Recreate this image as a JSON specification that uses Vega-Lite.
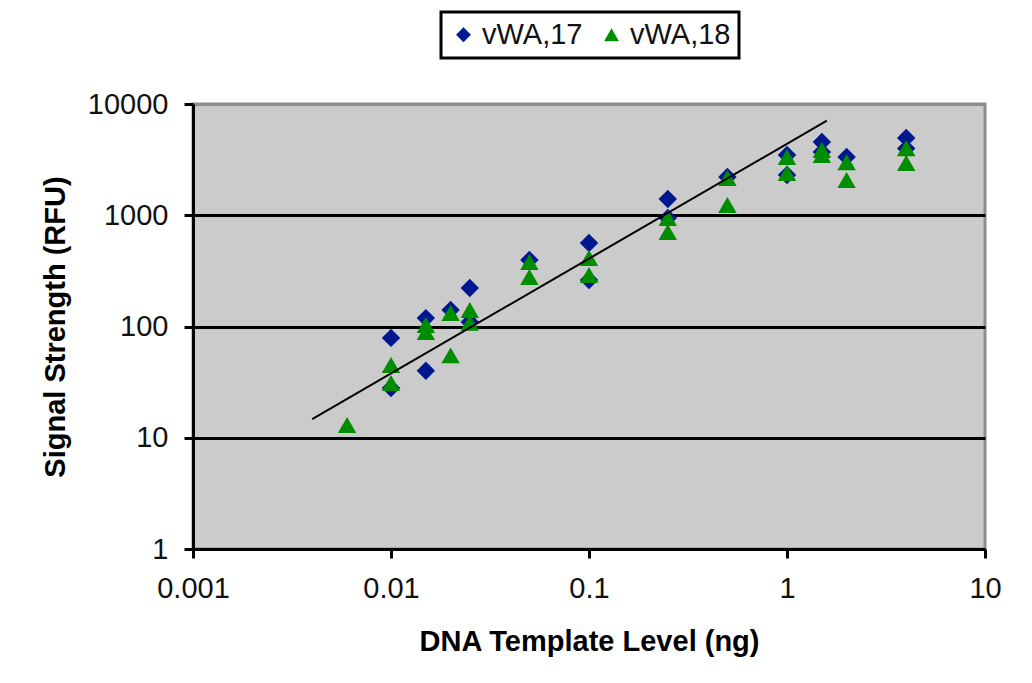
{
  "$schema": "https://vega.github.io/schema/vega-lite/v6.json",
  "autosize": {"type": "none"},
  "width": 792,
  "height": 445,
  "padding": {"left": 193, "top": 104, "right": 47, "bottom": 134},
  "background": "white",
  "datasets": {
    "signal": [
      {"dna": 0.01, "rfu": 79, "allele": "vWA,17"},
      {"dna": 0.01, "rfu": 28, "allele": "vWA,17"},
      {"dna": 0.015, "rfu": 119, "allele": "vWA,17"},
      {"dna": 0.015, "rfu": 40, "allele": "vWA,17"},
      {"dna": 0.02, "rfu": 141, "allele": "vWA,17"},
      {"dna": 0.025, "rfu": 222, "allele": "vWA,17"},
      {"dna": 0.025, "rfu": 110, "allele": "vWA,17"},
      {"dna": 0.05, "rfu": 396, "allele": "vWA,17"},
      {"dna": 0.1, "rfu": 563, "allele": "vWA,17"},
      {"dna": 0.1, "rfu": 262, "allele": "vWA,17"},
      {"dna": 0.25, "rfu": 1400, "allele": "vWA,17"},
      {"dna": 0.25, "rfu": 945, "allele": "vWA,17"},
      {"dna": 0.5, "rfu": 2207, "allele": "vWA,17"},
      {"dna": 1, "rfu": 3480, "allele": "vWA,17"},
      {"dna": 1, "rfu": 2300, "allele": "vWA,17"},
      {"dna": 1.5, "rfu": 4550, "allele": "vWA,17"},
      {"dna": 1.5, "rfu": 3700, "allele": "vWA,17"},
      {"dna": 2, "rfu": 3340, "allele": "vWA,17"},
      {"dna": 4, "rfu": 4950, "allele": "vWA,17"},
      {"dna": 4, "rfu": 3990, "allele": "vWA,17"},
      {"dna": 0.006, "rfu": 13, "allele": "vWA,18"},
      {"dna": 0.01, "rfu": 45, "allele": "vWA,18"},
      {"dna": 0.01, "rfu": 31, "allele": "vWA,18"},
      {"dna": 0.015, "rfu": 103, "allele": "vWA,18"},
      {"dna": 0.015, "rfu": 89, "allele": "vWA,18"},
      {"dna": 0.02, "rfu": 132, "allele": "vWA,18"},
      {"dna": 0.02, "rfu": 55, "allele": "vWA,18"},
      {"dna": 0.025, "rfu": 141, "allele": "vWA,18"},
      {"dna": 0.025, "rfu": 108, "allele": "vWA,18"},
      {"dna": 0.05, "rfu": 380, "allele": "vWA,18"},
      {"dna": 0.05, "rfu": 279, "allele": "vWA,18"},
      {"dna": 0.1, "rfu": 413, "allele": "vWA,18"},
      {"dna": 0.1, "rfu": 290, "allele": "vWA,18"},
      {"dna": 0.25, "rfu": 945, "allele": "vWA,18"},
      {"dna": 0.25, "rfu": 706, "allele": "vWA,18"},
      {"dna": 0.5, "rfu": 2160, "allele": "vWA,18"},
      {"dna": 0.5, "rfu": 1236, "allele": "vWA,18"},
      {"dna": 1, "rfu": 3340, "allele": "vWA,18"},
      {"dna": 1, "rfu": 2400, "allele": "vWA,18"},
      {"dna": 1.5, "rfu": 3860, "allele": "vWA,18"},
      {"dna": 1.5, "rfu": 3480, "allele": "vWA,18"},
      {"dna": 2, "rfu": 3000, "allele": "vWA,18"},
      {"dna": 2, "rfu": 2070, "allele": "vWA,18"},
      {"dna": 4, "rfu": 4000, "allele": "vWA,18"},
      {"dna": 4, "rfu": 2950, "allele": "vWA,18"}
    ],
    "trend": [
      {"dna": 0.004, "rfu": 14.7},
      {"dna": 1.59, "rfu": 7080}
    ]
  },
  "config": {
    "font": "Liberation Sans",
    "view": {"fill": "#CBCBCB", "stroke": "#8C8C8C", "strokeWidth": 3},
    "axis": {
      "domainColor": "black",
      "domainWidth": 3,
      "tickColor": "black",
      "tickWidth": 3,
      "tickSize": 9,
      "labelFlush": false,
      "labelFont": "Liberation Sans",
      "labelFontSize": 29,
      "labelColor": "#111111",
      "titleFont": "Liberation Sans",
      "titleFontSize": 29,
      "titleFontWeight": "bold",
      "titleColor": "black"
    },
    "legend": {
      "labelFont": "Liberation Sans",
      "labelFontSize": 29,
      "labelColor": "#111111",
      "strokeColor": "black",
      "fillColor": "white",
      "strokeWidth": 3
    }
  },
  "layer": [
    {
      "data": {"name": "signal"},
      "mark": {"type": "point", "filled": true, "opacity": 1, "size": 340},
      "encoding": {
        "x": {
          "field": "dna",
          "type": "quantitative",
          "title": "DNA Template Level (ng)",
          "scale": {"type": "log", "domain": [0.001, 10], "nice": false},
          "axis": {
            "values": [0.001, 0.01, 0.1, 1, 10],
            "format": "~g",
            "grid": false,
            "labelPadding": 16,
            "titlePadding": 24
          }
        },
        "y": {
          "field": "rfu",
          "type": "quantitative",
          "title": "Signal Strength (RFU)",
          "scale": {"type": "log", "domain": [1, 10000], "nice": false},
          "axis": {
            "values": [1, 10, 100, 1000, 10000],
            "format": "d",
            "grid": true,
            "gridColor": {"condition": {"test": "datum.value >= 10000", "value": "#8C8C8C"}, "value": "black"},
            "gridWidth": 3,
            "gridOpacity": 1,
            "labelPadding": 16,
            "titlePadding": 17
          }
        },
        "color": {
          "field": "allele",
          "type": "nominal",
          "scale": {"domain": ["vWA,17", "vWA,18"], "range": ["#00178F", "#008E00"]},
          "legend": {
            "title": null,
            "orient": "none",
            "legendX": 248,
            "legendY": -92,
            "direction": "horizontal",
            "padding": 8,
            "symbolSize": 220,
            "symbolOpacity": 1,
            "labelOffset": 4,
            "columnPadding": 14
          }
        },
        "shape": {
          "field": "allele",
          "type": "nominal",
          "scale": {"domain": ["vWA,17", "vWA,18"], "range": ["diamond", "triangle-up"]},
          "legend": null
        },
        "order": {"field": "allele", "sort": "ascending"}
      }
    },
    {
      "data": {"name": "trend"},
      "mark": {"type": "line", "color": "black", "strokeWidth": 2},
      "encoding": {
        "x": {"field": "dna", "type": "quantitative"},
        "y": {"field": "rfu", "type": "quantitative"}
      }
    }
  ]
}
